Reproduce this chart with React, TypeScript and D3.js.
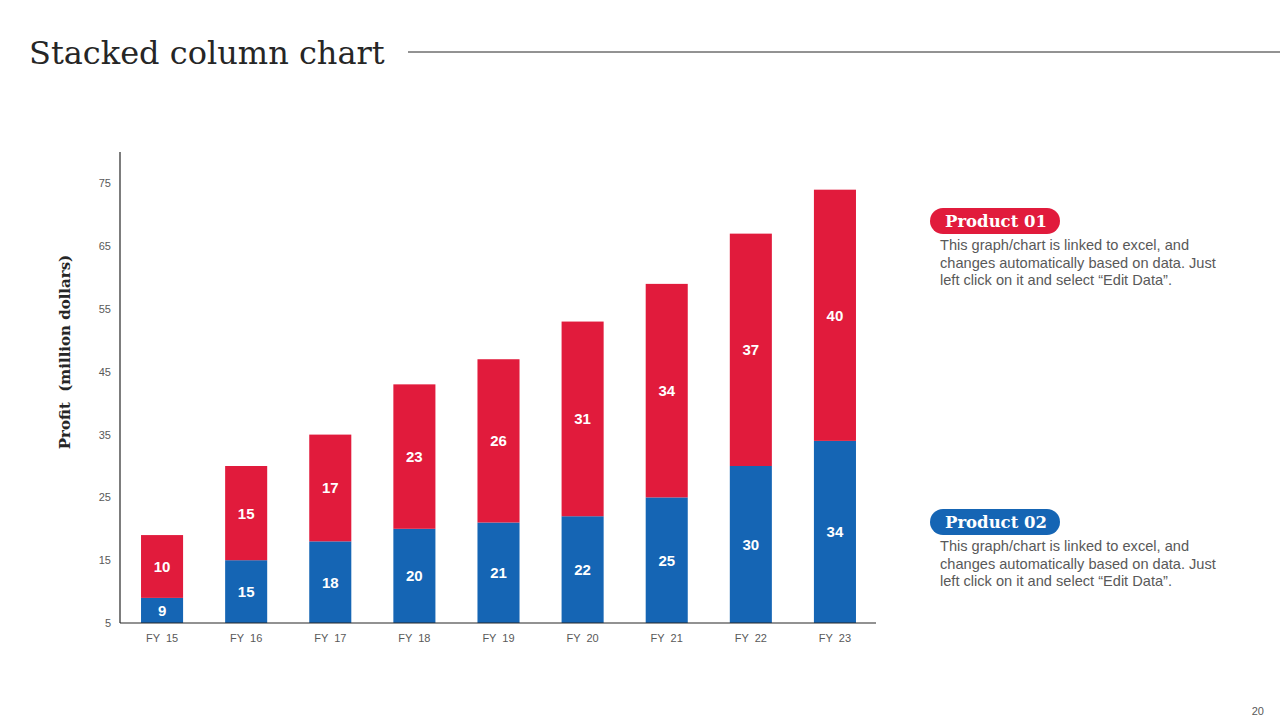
import * as d3 from 'd3'

const YEARS = ['FY 15', 'FY 16', 'FY 17', 'FY 18', 'FY 19', 'FY 20', 'FY 21', 'FY 22', 'FY 23']
const PRODUCT_02 = [9, 15, 18, 20, 21, 22, 25, 30, 34]
const PRODUCT_01 = [10, 15, 17, 23, 26, 31, 34, 37, 40]
const Y_TICKS = [5, 15, 25, 35, 45, 55, 65, 75]
const LEGEND = [
  { name: 'Product 01', color: '#E11B3C' },
  { name: 'Product 02', color: '#1565B4' },
]
const DESC = [
  'This graph/chart is linked to excel, and',
  'changes automatically based on data. Just',
  'left click on it and select \u201cEdit Data\u201d.',
]

const W = 1280
const H = 720
const X0 = 120
const X1 = 876
const Y_BOTTOM = 623
const Y_TOP = 152
const RED = '#E11B3C'
const BLUE = '#1565B4'
const SANS = 'Liberation Sans, Arial, sans-serif'
const SERIF = 'DejaVu Serif, Georgia, serif'

export default function App() {
  const xScale = d3
    .scaleBand<string>()
    .domain(YEARS)
    .range([X0, X1 + 1])
    .paddingInner(0.5)
    .paddingOuter(0.25)
  const yScale = d3.scaleLinear().domain([5, 80]).range([Y_BOTTOM, Y_TOP])
  const bw = xScale.bandwidth()

  const rows = YEARS.map((y, i) => ({ year: y, p2: PRODUCT_02[i], p1: PRODUCT_01[i] }))
  const stack = d3.stack<{ year: string; p2: number; p1: number }>().keys(['p2', 'p1'])(rows)
  const clampY = (v: number) => yScale(Math.max(5, v))

  return (
    <div style={{ position: 'absolute', left: 0, top: 0 }}>
      <svg width={W} height={H} style={{ display: 'block', background: '#fff' }}>
        {/* Title */}
        <text x={29} y={64} fontFamily={SERIF} fontSize={32} fill="#262626">
          Stacked column chart
        </text>
        <line x1={408} y1={52} x2={W} y2={52} stroke="#262626" strokeWidth={1} />

        {/* Y axis label */}
        <text
          transform="translate(70,352) rotate(-90)"
          textAnchor="middle"
          fontFamily={SERIF}
          fontWeight="bold"
          fontSize={15}
          fill="#262626"
          style={{ whiteSpace: 'pre' }}
        >
          Profit  (million dollars)
        </text>

        {/* Bars */}
        {stack.map((layer, li) =>
          layer.map((d, i) => {
            const x = xScale(YEARS[i]) ?? 0
            const yTop = clampY(d[1])
            const yBot = clampY(d[0])
            const val = li === 0 ? PRODUCT_02[i] : PRODUCT_01[i]
            return (
              <g key={`${li}-${i}`}>
                <rect x={x} y={yTop} width={bw} height={yBot - yTop} fill={li === 0 ? BLUE : RED} />
                <text
                  x={x + bw / 2}
                  y={(yTop + yBot) / 2 + 5.5}
                  textAnchor="middle"
                  fontFamily={SANS}
                  fontWeight="bold"
                  fontSize={15}
                  fill="#fff"
                >
                  {val}
                </text>
              </g>
            )
          })
        )}

        {/* Axes */}
        <line x1={X0} y1={Y_TOP} x2={X0} y2={Y_BOTTOM} stroke="#262626" strokeWidth={1.2} />
        <line x1={X0} y1={Y_BOTTOM} x2={X1} y2={Y_BOTTOM} stroke="#262626" strokeWidth={1.2} />
        {Y_TICKS.map((t) => (
          <text
            key={t}
            x={111}
            y={yScale(t) + 4}
            textAnchor="end"
            fontFamily={SANS}
            fontSize={11}
            fill="#595959"
          >
            {t}
          </text>
        ))}
        {YEARS.map((y) => (
          <text
            key={y}
            x={(xScale(y) ?? 0) + bw / 2}
            y={642}
            textAnchor="middle"
            fontFamily={SANS}
            fontSize={11}
            fill="#595959"
            style={{ whiteSpace: 'pre' }}
          >
            {y.replace(' ', '  ')}
          </text>
        ))}

        {/* Legend blocks */}
        {LEGEND.map((l, i) => {
          const top = i === 0 ? 208 : 509
          return (
            <g key={l.name}>
              <rect x={930} y={top} width={130} height={26} rx={13} fill={l.color} />
              <text
                x={996}
                y={top + 19}
                textAnchor="middle"
                fontFamily={SERIF}
                fontWeight="bold"
                fontSize={16.5}
                fill="#fff"
              >
                {l.name}
              </text>
              {DESC.map((line, j) => (
                <text
                  key={j}
                  x={940}
                  y={top + 42 + j * 17.5}
                  fontFamily={SANS}
                  fontSize={14.6}
                  fill="#595959"
                >
                  {line}
                </text>
              ))}
            </g>
          )
        })}

        <text x={1264} y={715} textAnchor="end" fontFamily={SANS} fontSize={11} fill="#595959">
          20
        </text>
      </svg>
    </div>
  )
}
